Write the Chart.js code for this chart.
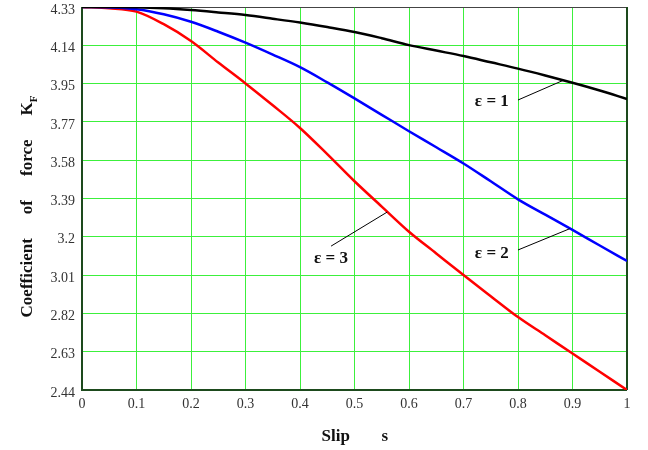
<!DOCTYPE html>
<html>
<head>
<meta charset="utf-8">
<script src="https://cdn.jsdelivr.net/npm/chart.js@4.4.1/dist/chart.umd.min.js"></script>
<style>
  html, body { margin: 0; padding: 0; background: #fff; }
  #chart { display: block; }
</style>
</head>
<body>
<canvas id="chart" width="648" height="450"></canvas>
<script>
// slip values, 0..1 in steps of 0.05
const slip = [0, 0.05, 0.1, 0.15, 0.2, 0.25, 0.3, 0.35, 0.4, 0.45, 0.5,
  0.55, 0.6, 0.65, 0.7, 0.75, 0.8, 0.85, 0.9, 0.95, 1];

// coefficient of force K_F
const eps1 = [4.330, 4.330, 4.329, 4.324, 4.315, 4.303, 4.290, 4.272, 4.253, 4.231, 4.207,
  4.176, 4.142, 4.115, 4.088, 4.057, 4.026, 3.992, 3.956, 3.918, 3.876];
const eps2 = [4.330, 4.328, 4.319, 4.294, 4.257, 4.208, 4.154, 4.095, 4.033, 3.958, 3.879,
  3.798, 3.717, 3.638, 3.558, 3.470, 3.381, 3.305, 3.230, 3.153, 3.077];
const eps3 = [4.330, 4.324, 4.307, 4.245, 4.162, 4.056, 3.953, 3.845, 3.733, 3.604, 3.470,
  3.345, 3.221, 3.114, 3.007, 2.903, 2.800, 2.710, 2.620, 2.530, 2.440];

const xTickLabels = ['0', '0.1', '0.2', '0.3', '0.4', '0.5', '0.6', '0.7', '0.8', '0.9', '1'];
const yTickLabels = ['2.44', '2.63', '2.82', '3.01', '3.2', '3.39', '3.58', '3.77', '3.95', '4.14', '4.33'];
const yMin = 2.44;
const yMax = 4.33;

// curve labels: text anchor and leader line, in data units
const curveLabels = [
  { text: 'ε = 1', at: [0.752, 3.863], from: [0.800, 3.871], to: [0.883, 3.968] },
  { text: 'ε = 2', at: [0.752, 3.111], from: [0.800, 3.131], to: [0.895, 3.236] },
  { text: 'ε = 3', at: [0.457, 3.086], from: [0.457, 3.150], to: [0.560, 3.318] }
];

const yTitleWords = ['Coefficient', 'of', 'force', 'K'];
const yTitleSub = 'F';

const serif = "'Liberation Serif', 'DejaVu Serif', serif";
const gridGreen = '#3cf03c';
const frameGreen = '#1d4a1d';

function toPoints(values) {
  return values.map((v, i) => ({ x: slip[i], y: v }));
}

const framePlugin = {
  id: 'frame',
  beforeDatasetsDraw(chart) {
    const { ctx, chartArea: a } = chart;
    ctx.save();
    ctx.strokeStyle = '#444';
    ctx.lineWidth = 1;
    ctx.beginPath();
    ctx.moveTo(a.left, a.top + 0.5);
    ctx.lineTo(a.right, a.top + 0.5);
    ctx.stroke();
    ctx.strokeStyle = frameGreen;
    ctx.lineWidth = 2;
    ctx.beginPath();
    ctx.moveTo(a.left, a.top);
    ctx.lineTo(a.left, a.bottom);
    ctx.lineTo(a.right, a.bottom);
    ctx.moveTo(a.right, a.top);
    ctx.lineTo(a.right, a.bottom);
    ctx.stroke();
    ctx.restore();
  },
  afterDatasetsDraw(chart) {
    const { ctx, chartArea: a, scales } = chart;
    const px = (v) => scales.x.getPixelForValue(v);
    const py = (v) => scales.y.getPixelForValue(v);
    ctx.save();

    // curve labels with leader lines
    ctx.strokeStyle = '#000';
    ctx.lineWidth = 1;
    ctx.fillStyle = '#111';
    ctx.font = `bold 17px ${serif}`;
    ctx.textAlign = 'center';
    ctx.textBaseline = 'middle';
    curveLabels.forEach((lab) => {
      ctx.beginPath();
      ctx.moveTo(px(lab.from[0]), py(lab.from[1]));
      ctx.lineTo(px(lab.to[0]), py(lab.to[1]));
      ctx.stroke();
      ctx.fillText(lab.text, px(lab.at[0]), py(lab.at[1]));
    });

    // x axis title
    ctx.textAlign = 'left';
    const xc = (a.left + a.right) / 2;
    ctx.fillText('Slip', xc - 33, a.bottom + 47);
    ctx.fillText('s', xc + 27, a.bottom + 47);

    // y axis title, rotated, words spread out, with subscript
    const gap = 24;
    ctx.font = `bold 17px ${serif}`;
    const widths = yTitleWords.map((w) => ctx.measureText(w).width);
    ctx.font = `bold 11px ${serif}`;
    const wSub = ctx.measureText(yTitleSub).width;
    const total = widths.reduce((s, w) => s + w, 0) + gap * (yTitleWords.length - 1) + wSub;
    ctx.translate(28, (a.top + a.bottom) / 2 + 8);
    ctx.rotate(-Math.PI / 2);
    ctx.font = `bold 17px ${serif}`;
    let pos = -total / 2;
    yTitleWords.forEach((w, i) => {
      ctx.fillText(w, pos, 0);
      pos += widths[i] + (i < yTitleWords.length - 1 ? gap : 0);
    });
    ctx.font = `bold 11px ${serif}`;
    ctx.fillText(yTitleSub, pos, 6);
    ctx.restore();
  }
};

new Chart(document.querySelector('#chart'), {
  type: 'line',
  data: {
    datasets: [
      { label: 'ε = 1', data: toPoints(eps1), borderColor: '#000000' },
      { label: 'ε = 2', data: toPoints(eps2), borderColor: '#0000ff' },
      { label: 'ε = 3', data: toPoints(eps3), borderColor: '#ff0000' }
    ].map((ds) => ({
      ...ds,
      borderWidth: 2.5,
      pointRadius: 0,
      cubicInterpolationMode: 'monotone',
      fill: false
    }))
  },
  options: {
    responsive: false,
    animation: false,
    layout: { padding: { top: 0, right: 21, left: 0, bottom: 0 } },
    plugins: {
      legend: { display: false },
      tooltip: { enabled: false }
    },
    scales: {
      x: {
        type: 'linear',
        min: 0,
        max: 1,
        afterFit(scale) { scale.height = 60; },
        afterBuildTicks(scale) {
          scale.ticks = xTickLabels.map((t, i) => ({ value: i / 10 }));
        },
        ticks: {
          callback: (v, i) => xTickLabels[i],
          color: '#333',
          font: { family: serif, size: 14 },
          padding: 6,
          maxRotation: 0
        },
        grid: { color: gridGreen, lineWidth: 1, drawTicks: false },
        border: { display: false }
      },
      y: {
        type: 'linear',
        min: yMin,
        max: yMax,
        afterFit(scale) {
          scale.width = 82;
          scale.paddingTop = 7;
          scale.paddingBottom = 0;
        },
        afterBuildTicks(scale) {
          const step = (yMax - yMin) / (yTickLabels.length - 1);
          scale.ticks = yTickLabels.map((t, i) => ({ value: i === yTickLabels.length - 1 ? yMax : yMin + i * step }));
        },
        ticks: {
          callback: (v, i) => yTickLabels[i],
          color: '#333',
          font: { family: serif, size: 14 },
          padding: 7,
          labelOffset: 3
        },
        grid: { color: gridGreen, lineWidth: 1, drawTicks: false },
        border: { display: false }
      }
    }
  },
  plugins: [framePlugin]
});
</script>
</body>
</html>
